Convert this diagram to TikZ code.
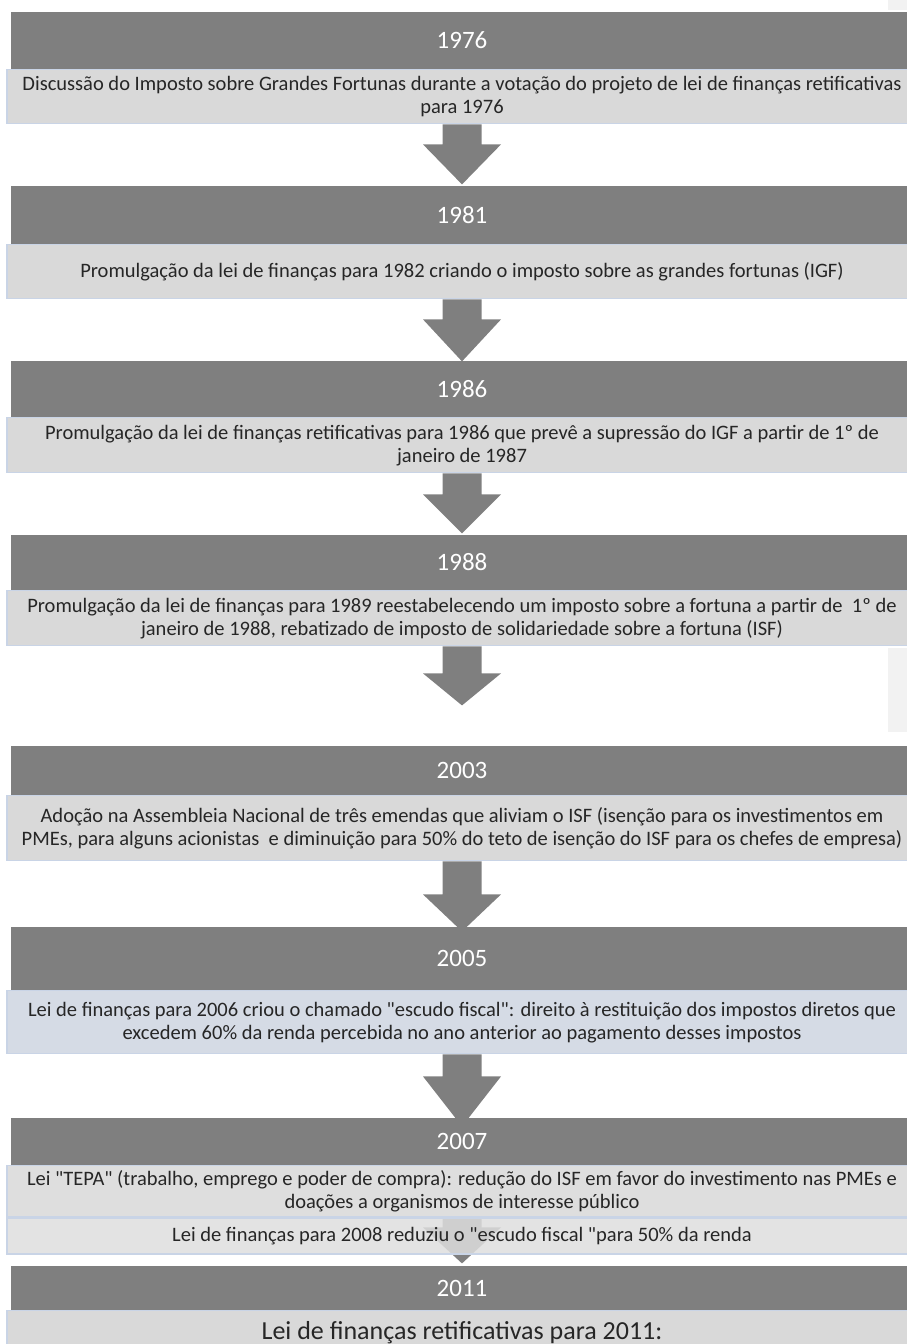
\documentclass[tikz,border=0pt]{standalone}
\usepackage{fontspec}
\setmainfont{Carlito}[Ligatures=TeXOff]
\usetikzlibrary{calc}
\definecolor{cinzaano}{RGB}{127,127,127}
\definecolor{cinzatexto}{RGB}{217,217,217}
\definecolor{cinzaclaro}{RGB}{222,222,222}
\definecolor{bordaazul}{RGB}{201,212,230}
\definecolor{azulclaro}{RGB}{213,219,229}
\definecolor{cinzafundo}{RGB}{242,242,242}

\begin{document}
\begin{tikzpicture}[x=1pt,y=-1pt,
  ano/.style={fill=cinzaano,text=white,minimum width=902pt,inner sep=0pt,font=\fontsize{25}{28}\selectfont},
  texto/.style={fill=cinzatexto,draw=bordaazul,line width=1.2pt,minimum width=910pt,inner sep=0pt,align=center,text=black!85,font=\fontsize{20.5}{23}\selectfont},
  seta/.style={fill=cinzaano}]
\useasboundingbox (0,0) rectangle (907,1344);
\clip (0,0) rectangle (907,1344);
\fill[cinzafundo] (888,0) rectangle (907,10);
\fill[cinzafundo] (888,648) rectangle (907,732);

\node[ano,minimum height=57pt] (ano1976) at (462,40.5) {1976};
\node[texto,minimum height=54pt,anchor=north] (txt1976) at (ano1976.south) {Discussão do Imposto sobre Grandes Fortunas durante a votação do projeto de lei de finanças retificativas\\para 1976};

\node[ano,minimum height=58pt] (ano1981) at (462,215) {1981};
\node[texto,minimum height=54pt,anchor=north] (txt1981) at (ano1981.south) {Promulgação da lei de finanças para 1982 criando o imposto sobre as grandes fortunas (IGF)};

\node[ano,minimum height=56pt] (ano1986) at (462,389) {1986};
\node[texto,minimum height=55pt,anchor=north] (txt1986) at (ano1986.south) {Promulgação da lei de finanças retificativas para 1986 que prevê a supressão do IGF a partir de 1º de\\janeiro de 1987};

\node[ano,minimum height=55pt] (ano1988) at (462,562.5) {1988};
\node[texto,minimum height=55pt,anchor=north] (txt1988) at (ano1988.south) {Promulgação da lei de finanças para 1989 reestabelecendo um imposto sobre a fortuna a partir de \ 1º de\\janeiro de 1988, rebatizado de imposto de solidariedade sobre a fortuna (ISF)};

\node[ano,minimum height=49pt] (ano2003) at (462,770.5) {2003};
\node[texto,minimum height=65pt,anchor=north] (txt2003) at (ano2003.south) {Adoção na Assembleia Nacional de três emendas que aliviam o ISF (isenção para os investimentos em\\PMEs, para alguns acionistas \ e diminuição para 50\% do teto de isenção do ISF para os chefes de empresa)};

\node[ano,minimum height=63pt] (ano2005) at (462,958.5) {2005};
\node[texto,fill=azulclaro,minimum height=63pt,anchor=north] (txt2005) at (ano2005.south) {Lei de finanças para 2006 criou o chamado "escudo fiscal": direito à restituição dos impostos diretos que\\excedem 60\% da renda percebida no ano anterior ao pagamento desses impostos};

\node[ano,minimum height=47pt] (ano2007) at (462,1141.5) {2007};
\node[texto,fill=cinzaclaro,minimum height=51pt,anchor=north] (txt2007a) at (ano2007.south) {Lei "TEPA" (trabalho, emprego e poder de compra): redução do ISF em favor do investimento nas PMEs e\\doações a organismos de interesse público};

\foreach \de/\s/\h in {txt1976/20/40,txt1981/20/42,txt1986/21/39,txt1988/27/32,txt2003/33/37,txt2005/22/50,txt2007a/10/36}
  \fill[seta] (\de.south) ++(-19.5,0) -- ++(0,\s) -- ++(-19.5,0) -- ++(39,\h) -- ++(39,-\h) -- ++(-19.5,0) -- ++(0,-\s) -- cycle;

\node[texto,fill=cinzaclaro,fill opacity=0.85,text opacity=1,minimum height=36pt,anchor=north] (txt2007b) at (txt2007a.south) {Lei de finanças para 2008 reduziu o "escudo fiscal "para 50\% da renda};

\node[ano,minimum height=44pt] (ano2011) at (462,1288) {2011};
\node[texto,minimum height=44pt,anchor=north,font=\fontsize{26}{30}\selectfont] (txt2011) at (ano2011.south) {Lei de finanças retificativas para 2011:};
\end{tikzpicture}
\end{document}
